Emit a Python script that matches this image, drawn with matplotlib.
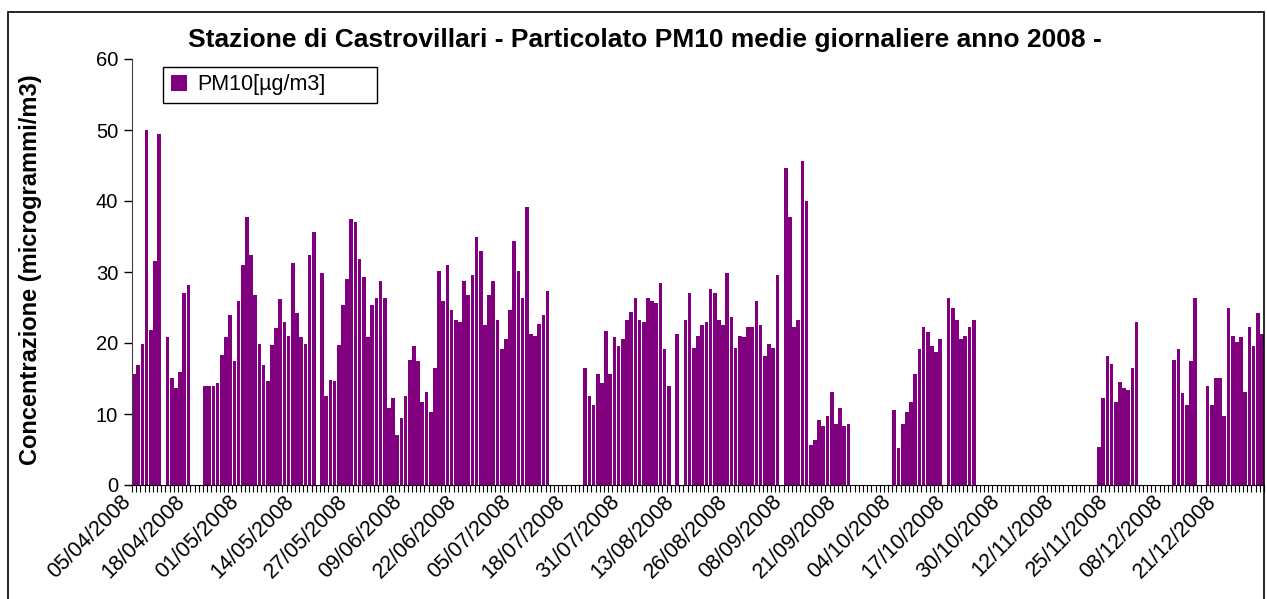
import matplotlib
matplotlib.use('Agg')
import matplotlib.pyplot as plt
import matplotlib.transforms as mtransforms
import numpy as np
import pandas as pd
from matplotlib.patches import Rectangle

plt.rcParams['font.family'] = ['Liberation Sans', 'DejaVu Sans']

nan = np.nan

# PM10 daily means [ug/m3], one value per day from 05/04/2008 to 31/12/2008 (nan = no data)
apr = [15.7, 16.9, 19.9, 50.0, 21.9, 31.5, 49.4, nan, 20.8, 15.1, 13.7, 15.9, 27.0,
       28.1, nan, nan, nan, 13.9, 13.9, 13.9, 14.3, 18.3, 20.8, 23.9, 17.4, 25.9]
may = [31.0, 37.7, 32.4, 26.7, 19.9, 16.9, 14.6, 19.7, 22.1, 26.2, 23.0, 21.0, 31.3,
       24.2, 20.8, 19.9, 32.4, 35.6, nan, 29.8, 12.6, 14.8, 14.6, 19.7, 25.3, 29.0,
       37.5, 37.0, 31.8, 29.3, 20.8]
jun = [25.3, 26.4, 28.7, 26.4, 10.9, 12.3, 7.1, 9.4, 12.5, 17.6, 19.6, 17.4, 11.7,
       13.1, 10.3, 16.5, 30.1, 25.9, 31.0, 24.7, 23.3, 23.0, 28.7, 26.7, 29.6, 34.9,
       33.0, 22.5, 26.7, 28.7]
jul = [23.3, 19.1, 20.5, 24.7, 34.4, 30.1, 26.4, 39.2, 21.3, 21.0, 22.7, 23.9, 27.3,
       nan, nan, nan, nan, nan, nan, nan, nan, 16.5, 12.6, 11.2, 15.7, 14.3, 21.7,
       15.7, 20.8, 19.6, 20.5]
aug = [23.3, 24.4, 26.4, 23.3, 23.0, 26.4, 25.9, 25.6, 28.4, 19.1, 13.9, nan, 21.3,
       nan, 23.3, 27.0, 19.3, 21.0, 22.5, 23.0, 27.6, 27.0, 23.3, 22.5, 29.8, 23.6,
       19.3, 21.0, 20.8, 22.2, 22.2]
sep = [25.9, 22.5, 18.2, 19.9, 19.3, 29.6, nan, 44.6, 37.8, 22.2, 23.3, 45.7, 40.0,
       5.7, 6.4, 9.1, 8.3, 9.7, 13.1, 8.6, 10.9, 8.3, 8.6, nan, nan, nan, nan, nan,
       nan, nan]
oct_ = [nan, nan, nan, 10.5, 5.2, 8.6, 10.3, 11.7, 15.7, 19.1, 22.2, 21.6, 19.6, 18.8,
        20.5, nan, 26.4, 25.0, 23.3, 20.5, 21.0, 22.2, 23.3, nan, nan, nan, nan, nan,
        nan, nan, nan]
nov = [nan] * 21 + [5.4, 12.3, 18.2, 17.1, 11.7, 14.5, 13.7, 13.4, 16.5]
dec = [23.0, nan, nan, nan, nan, nan, nan, nan, nan, 17.6, 19.1, 12.9, 11.2, 17.4,
       26.4, nan, nan, 13.9, 11.2, 15.1, 15.1, 9.7, 25.0, 21.0, 20.2, 20.8, 13.1,
       22.2, 19.6, 24.2, 21.3]

pm10 = np.array(apr + may + jun + jul + aug + sep + oct_ + nov + dec)
dates = pd.date_range('2008-04-05', '2008-12-31', freq='D')
label_step = 13

W, H = 1267, 599
fig = plt.figure(figsize=(W / 100, H / 100), dpi=100)

# outer chart frame (bottom edge falls outside the picture)
fig.patches.append(Rectangle((8 / W, -0.1), (1264 - 8) / W, 1.1 - 12 / H,
                             transform=fig.transFigure, fill=False,
                             edgecolor='black', linewidth=1.2))

ax = fig.add_axes([132 / W, 1 - 485 / H, (1264 - 132) / W, (485 - 59) / H])

x = np.arange(len(dates))
ax.bar(x, np.nan_to_num(pm10), width=0.88, color='#800080', linewidth=0,
       label='PM10[µg/m3]')

ax.set_yticks(np.arange(0, 61, 10))
ax.set_xticks([])
ax.set_xticks(np.arange(len(dates) + 1) - 0.5, minor=True)
ax.set_xlim(-0.5, len(dates) - 0.5)
ax.set_ylim(0, 60)
ax.tick_params(axis='x', which='minor', length=5, width=0.8, direction='out')
ax.tick_params(axis='y', which='major', length=6, width=1, labelsize=14.5, pad=4)

# date labels every 13 days, rotated, upper end on the day (Excel style)
lab_tr = ax.get_xaxis_transform() + mtransforms.ScaledTranslation(
    -14 / 100, -6 / 100, fig.dpi_scale_trans)
for i in x[::label_step]:
    ax.text(i, 0, dates[i].strftime('%d/%m/%Y'), transform=lab_tr, rotation=45,
            ha='right', va='top', rotation_mode='anchor', fontsize=15.5)

for s in ['top', 'right']:
    ax.spines[s].set_visible(False)
ax.spines['left'].set_color('#404040')
ax.spines['bottom'].set_color('black')

fig.text(31 / W, 1 - 270 / H, 'Concentrazione (microgrammi/m3)', rotation=90,
         ha='center', va='center', fontsize=17, fontweight='bold')
fig.text(645 / W, 1 - 40 / H,
         'Stazione di Castrovillari - Particolato PM10 medie giornaliere anno 2008 -',
         ha='center', va='center', fontsize=19, fontweight='bold')

leg = ax.legend(loc='upper left', bbox_to_anchor=(0.0274, 0.897, 0.189, 0.0845),
                mode='expand', fontsize=15.5, frameon=True, fancybox=False,
                edgecolor='black', framealpha=1, handlelength=0.75,
                handleheight=0.75, handletextpad=0.5, borderpad=0.35,
                borderaxespad=0)
leg.get_frame().set_linewidth(1)

fig.savefig('out.png', dpi=100)
